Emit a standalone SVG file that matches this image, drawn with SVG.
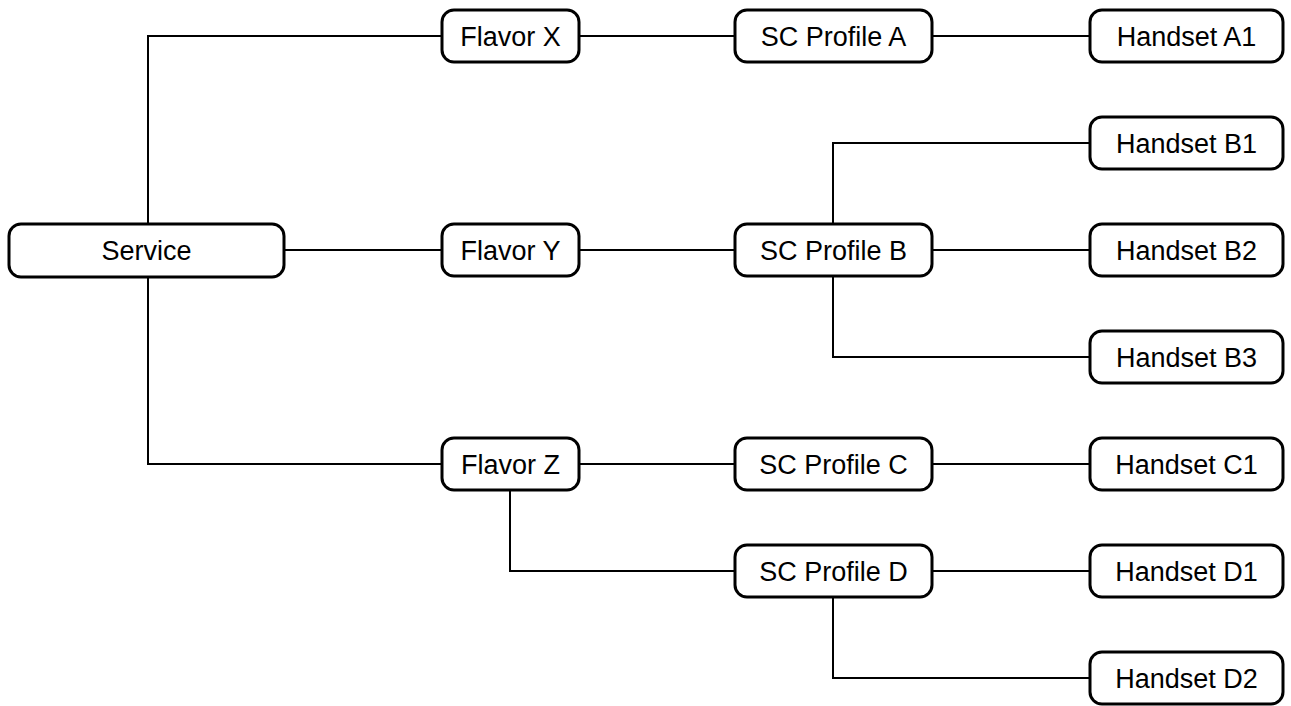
<svg xmlns="http://www.w3.org/2000/svg" width="1291" height="706" viewBox="0 0 1291 706">
  <style>
    .box { fill: #ffffff; stroke: #000000; stroke-width: 3; }
    .lbl { font-family: "Liberation Sans", Arial, sans-serif; font-size: 27px; fill: #000000; text-anchor: middle; }
    .wire { fill: none; stroke: #000000; stroke-width: 2; }
  </style>
  <rect width="1291" height="706" fill="#ffffff"/>

  <!-- connectors -->
  <g id="connectors" class="wire">
    <path d="M148 224 V36 H442"/>
    <path d="M284 250 H442"/>
    <path d="M148 277 V464 H442"/>
    <path d="M579 36 H735"/>
    <path d="M579 250 H735"/>
    <path d="M579 464 H735"/>
    <path d="M510 490 V571 H735"/>
    <path d="M932 36 H1090"/>
    <path d="M833 224 V143 H1090"/>
    <path d="M932 250 H1090"/>
    <path d="M833 276 V357 H1090"/>
    <path d="M932 464 H1090"/>
    <path d="M932 571 H1090"/>
    <path d="M833 597 V678 H1090"/>
  </g>

  <!-- nodes -->
  <g id="service"><rect class="box" x="9" y="224" width="275" height="53" rx="12"/><text class="lbl" x="146.5" y="260">Service</text></g>

  <g id="flavor-x"><rect class="box" x="442" y="10" width="137" height="52" rx="12"/><text class="lbl" x="510.5" y="45.5">Flavor X</text></g>
  <g id="flavor-y"><rect class="box" x="442" y="224" width="137" height="52" rx="12"/><text class="lbl" x="510.5" y="259.5">Flavor Y</text></g>
  <g id="flavor-z"><rect class="box" x="442" y="438" width="137" height="52" rx="12"/><text class="lbl" x="510.5" y="473.5">Flavor Z</text></g>

  <g id="sc-profile-a"><rect class="box" x="735" y="10" width="197" height="52" rx="12"/><text class="lbl" x="833.5" y="45.5">SC Profile A</text></g>
  <g id="sc-profile-b"><rect class="box" x="735" y="224" width="197" height="52" rx="12"/><text class="lbl" x="833.5" y="259.5">SC Profile B</text></g>
  <g id="sc-profile-c"><rect class="box" x="735" y="438" width="197" height="52" rx="12"/><text class="lbl" x="833.5" y="473.5">SC Profile C</text></g>
  <g id="sc-profile-d"><rect class="box" x="735" y="545" width="197" height="52" rx="12"/><text class="lbl" x="833.5" y="580.5">SC Profile D</text></g>

  <g id="handset-a1"><rect class="box" x="1090" y="10" width="193" height="52" rx="12"/><text class="lbl" x="1186.5" y="45.5">Handset A1</text></g>
  <g id="handset-b1"><rect class="box" x="1090" y="117" width="193" height="52" rx="12"/><text class="lbl" x="1186.5" y="152.5">Handset B1</text></g>
  <g id="handset-b2"><rect class="box" x="1090" y="224" width="193" height="52" rx="12"/><text class="lbl" x="1186.5" y="259.5">Handset B2</text></g>
  <g id="handset-b3"><rect class="box" x="1090" y="331" width="193" height="52" rx="12"/><text class="lbl" x="1186.5" y="366.5">Handset B3</text></g>
  <g id="handset-c1"><rect class="box" x="1090" y="438" width="193" height="52" rx="12"/><text class="lbl" x="1186.5" y="473.5">Handset C1</text></g>
  <g id="handset-d1"><rect class="box" x="1090" y="545" width="193" height="52" rx="12"/><text class="lbl" x="1186.5" y="580.5">Handset D1</text></g>
  <g id="handset-d2"><rect class="box" x="1090" y="652" width="193" height="52" rx="12"/><text class="lbl" x="1186.5" y="687.5">Handset D2</text></g>
</svg>
